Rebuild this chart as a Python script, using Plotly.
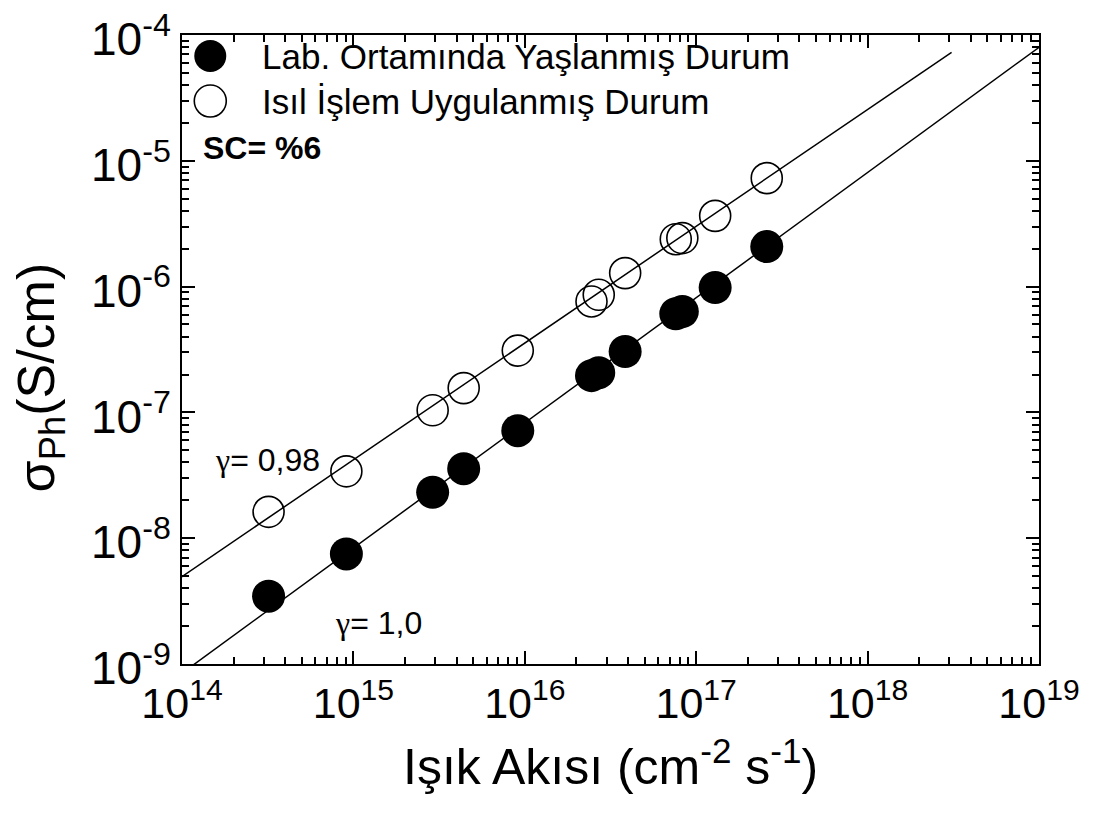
import plotly.graph_objects as go

# ---- data ----
flux = [3.2e14, 9.1e14, 2.9e15, 4.4e15, 9.1e15, 2.45e16, 2.7e16, 3.85e16,
        7.6e16, 8.3e16, 1.29e17, 2.58e17]
sigma_aged = [3.46e-9, 7.5e-9, 2.32e-8, 3.57e-8, 7.16e-8, 1.96e-7, 2.07e-7,
              3.05e-7, 6.08e-7, 6.34e-7, 9.84e-7, 2.08e-6]
sigma_annealed = [1.62e-8, 3.40e-8, 1.04e-7, 1.56e-7, 3.10e-7, 7.62e-7, 8.61e-7,
                  1.28e-6, 2.38e-6, 2.43e-6, 3.65e-6, 7.28e-6]

fit_aged_x = [1.05e14, 1.09e19]
fit_aged_y = [8.87e-10, 8.69e-5]
fit_annealed_x = [8.95e13, 3.09e18]
fit_annealed_y = [4.47e-9, 7.29e-5]

x_tickvals = [1e14, 1e15, 1e16, 1e17, 1e18, 1e19]
x_ticktext = ["10<sup>14</sup>", "10<sup>15</sup>", "10<sup>16</sup>",
              "10<sup>17</sup>", "10<sup>18</sup>", "10<sup>19</sup>"]
y_tickvals = [1e-9, 1e-8, 1e-7, 1e-6, 1e-5, 1e-4]
y_ticktext = ["10<sup>-9</sup>", "10<sup>-8</sup>", "10<sup>-7</sup>",
              "10<sup>-6</sup>", "10<sup>-5</sup>", "10<sup>-4</sup>"]

legend_labels = ["Lab. Ortamında Yaşlanmış Durum", "Isıl İşlem Uygulanmış Durum"]

x_minor = [k * 10 ** e for e in range(14, 19) for k in range(2, 10)]
y_minor = [k * 10.0 ** e for e in range(-9, -4) for k in range(2, 10)]

FONT = "Liberation Sans, Arial, sans-serif"

fig = go.Figure()

fig.add_trace(go.Scatter(x=fit_annealed_x, y=fit_annealed_y, mode="lines",
                         line=dict(color="black", width=1.5), showlegend=False,
                         hoverinfo="skip"))
fig.add_trace(go.Scatter(x=fit_aged_x, y=fit_aged_y, mode="lines",
                         line=dict(color="black", width=1.5), showlegend=False,
                         hoverinfo="skip"))
fig.add_trace(go.Scatter(x=flux, y=sigma_annealed, mode="markers",
                         name=legend_labels[1], showlegend=False,
                         marker=dict(symbol="circle-open", size=31, color="black",
                                     line=dict(width=1.6, color="black"))))
fig.add_trace(go.Scatter(x=flux, y=sigma_aged, mode="markers",
                         name=legend_labels[0], showlegend=False,
                         marker=dict(symbol="circle", size=33, color="black",
                                     line=dict(width=0))))

axis_common = dict(
    type="log", showgrid=False, zeroline=False, automargin=False,
    showline=True, linecolor="black", linewidth=2, mirror="ticks",
    ticks="inside", ticklen=13, tickwidth=1.5, tickcolor="black",
    tickmode="array", ticklabeloverflow="allow",
)

fig.update_xaxes(
    **axis_common, range=[14, 19], tickvals=x_tickvals, ticktext=x_ticktext,
    tickfont=dict(family=FONT, size=43, color="black"),
    minor=dict(tickmode="array", tickvals=x_minor, ticks="inside", ticklen=7,
               tickwidth=1.5, tickcolor="black"),
)
fig.update_yaxes(
    **axis_common, range=[-9, -4], tickvals=y_tickvals, ticktext=y_ticktext,
    tickfont=dict(family=FONT, size=46, color="black"), ticklabelshift=4,
    minor=dict(tickmode="array", tickvals=y_minor, ticks="inside", ticklen=7,
               tickwidth=1.5, tickcolor="black"),
)

# legend symbols (layout shapes)
for yc, filled in [(0.9666, True), (0.8950, False)]:
    fig.add_shape(type="circle", xref="paper", yref="paper",
                  xsizemode="pixel", ysizemode="pixel",
                  xanchor=0.033, yanchor=yc, x0=-16, x1=16, y0=-16, y1=16,
                  fillcolor="black" if filled else "rgba(0,0,0,0)",
                  line=dict(color="black", width=0 if filled else 1.6))

annotations = [
    dict(text=legend_labels[0], x=0.0907, y=0.9666, xanchor="left", yanchor="middle",
         font=dict(family=FONT, size=35, color="black")),
    dict(text=legend_labels[1], x=0.0907, y=0.8950, xanchor="left", yanchor="middle",
         font=dict(family=FONT, size=35, color="black")),
    dict(text="<b>SC= %6</b>", x=0.0218, y=0.8203, xanchor="left", yanchor="middle",
         font=dict(family=FONT, size=32, color="black")),
    dict(text='<span style="font-family:Liberation Serif">γ</span>= 0,98',
         x=0.0358, y=0.3247, xanchor="left", yanchor="middle",
         font=dict(family=FONT, size=32, color="black")),
    dict(text='<span style="font-family:Liberation Serif">γ</span>= 1,0',
         x=0.1758, y=0.0656, xanchor="left", yanchor="middle",
         font=dict(family=FONT, size=32, color="black")),
    dict(text="σ<sub>Ph</sub>(S/cm)", x=-0.1661, y=0.455, textangle=-90,
         xanchor="center", yanchor="middle",
         font=dict(family=FONT, size=52, color="black")),
    dict(text="Işık Akısı (cm<sup>-2</sup> s<sup>-1</sup>)", x=0.5, y=-0.158,
         xanchor="center", yanchor="middle",
         font=dict(family=FONT, size=50, color="black")),
]
for a in annotations:
    fig.add_annotation(xref="paper", yref="paper", showarrow=False, **a)

fig.update_layout(
    width=1101, height=836,
    margin=dict(l=174, r=70, t=27, b=180, autoexpand=False),
    paper_bgcolor="white", plot_bgcolor="white",
    showlegend=False,
)

fig.write_html("out.html")
